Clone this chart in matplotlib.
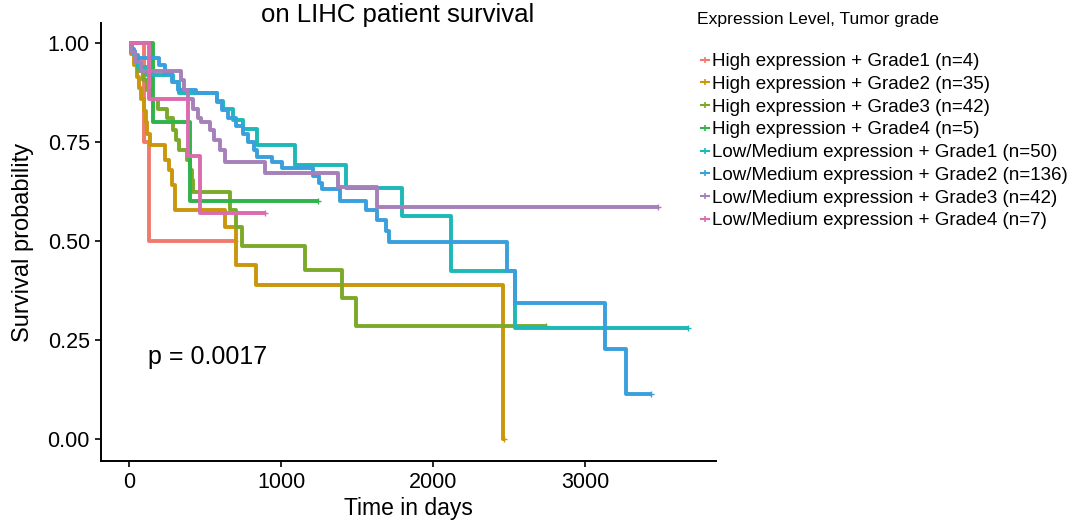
import matplotlib
matplotlib.use("Agg")
import matplotlib.pyplot as plt
from matplotlib.lines import Line2D

plt.rcParams["font.family"] = ["Liberation Sans", "DejaVu Sans"]

# ---- curves (time in days, survival) ----
hg1_t = [0, 96, 128, 697]
hg1_s = [1.0, 0.75, 0.50, 0.50]

hg2_t = [0, 15, 29, 50, 68, 75, 95, 110, 120, 135, 238, 260, 285, 300, 627, 704, 835, 2460, 2465]
hg2_s = [1.0, 0.971, 0.943, 0.914, 0.886, 0.857, 0.829, 0.80, 0.771, 0.743, 0.705, 0.68, 0.641, 0.578, 0.536, 0.439, 0.389, 0.0, 0.0]

hg3_t = [0, 20, 40, 60, 90, 120, 150, 190, 250, 290, 310, 330, 380, 400, 410, 420, 665, 700, 745, 1157, 1397, 1490, 2740]
hg3_s = [1.0, 0.976, 0.952, 0.929, 0.905, 0.881, 0.857, 0.833, 0.81, 0.78, 0.755, 0.73, 0.705, 0.68, 0.655, 0.624, 0.578, 0.536, 0.488, 0.427, 0.356, 0.285, 0.285]

hg4_t = [0, 160, 403, 1240]
hg4_s = [1.0, 0.80, 0.60, 0.60]

lg1_t = [0, 20, 40, 60, 120, 290, 330, 580, 620, 680, 750, 840, 1090, 1424, 1797, 2118, 2537, 3676]
lg1_s = [1.0, 0.98, 0.96, 0.94, 0.92, 0.90, 0.874, 0.853, 0.832, 0.806, 0.783, 0.742, 0.692, 0.634, 0.563, 0.423, 0.28, 0.28]

lg2_t = [0, 15, 35, 55, 195, 235, 280, 320, 440, 580, 610, 650, 700, 750, 780, 820, 840, 940, 1005,
         1210, 1250, 1270, 1385, 1560, 1630, 1690, 1710, 2485, 2537, 3126, 3264, 3434]
lg2_s = [1.0, 0.985, 0.97, 0.962, 0.945, 0.924, 0.90, 0.88, 0.874, 0.85, 0.83, 0.81, 0.79, 0.77, 0.75, 0.73, 0.712, 0.70, 0.684,
         0.665, 0.645, 0.63, 0.60, 0.578, 0.553, 0.525, 0.498, 0.425, 0.343, 0.227, 0.114, 0.114]

lg3_t = [0, 15, 40, 80, 340, 360, 390, 420, 450, 470, 530, 560, 600, 630, 893, 1371, 1627, 3480]
lg3_s = [1.0, 0.976, 0.952, 0.929, 0.905, 0.88, 0.857, 0.833, 0.81, 0.80, 0.78, 0.755, 0.73, 0.70, 0.672, 0.636, 0.586, 0.586]

lg4_t = [0, 128, 390, 468, 893]
lg4_s = [1.0, 0.857, 0.714, 0.571, 0.571]

labels = ["High expression + Grade1 (n=4)", "High expression + Grade2 (n=35)",
          "High expression + Grade3 (n=42)", "High expression + Grade4 (n=5)",
          "Low/Medium expression + Grade1 (n=50)", "Low/Medium expression + Grade2 (n=136)",
          "Low/Medium expression + Grade3 (n=42)", "Low/Medium expression + Grade4 (n=7)"]
colors = ["#F07A6E", "#C9960C", "#7BAA2A", "#2FB34A", "#1DB8B8", "#3A9FDD", "#A680BA", "#DC6BAE"]
curves = [(hg1_t, hg1_s), (hg2_t, hg2_s), (hg3_t, hg3_s), (hg4_t, hg4_s),
          (lg1_t, lg1_s), (lg2_t, lg2_s), (lg3_t, lg3_s), (lg4_t, lg4_s)]

fig = plt.figure(figsize=(10.7, 5.24), dpi=100)
ax = fig.add_axes([0.0944, 0.12, 0.575, 0.836])

for (t, s), c in zip(curves, colors):
    ax.step(t, s, where="post", color=c, lw=2.8, solid_capstyle="butt")
    ax.plot(t[-1], s[-1], marker="+", color=c, ms=4, mew=1)

ax.set_xlim(-185, 3860)
ax.set_ylim(-0.056, 1.05)
ax.set_xticks([0, 1000, 2000, 3000])
ax.set_yticks([0, 0.25, 0.5, 0.75, 1.0])
ax.set_yticklabels(["0.00", "0.25", "0.50", "0.75", "1.00"])
for sp in ["top", "right"]:
    ax.spines[sp].set_visible(False)
for sp in ["left", "bottom"]:
    ax.spines[sp].set_linewidth(1.4)
ax.tick_params(labelsize=15.5, width=1.2, length=4, pad=4, colors="black")
ax.set_xlabel("Time in days", fontsize=16.5, labelpad=3)
ax.set_ylabel("Survival probability", fontsize=17, labelpad=10)
fig.text(0.372, 1 - 15 / 524, "on LIHC patient survival", fontsize=18.5, ha="center", va="center")

ax.text(127, 0.207, "p = 0.0017", fontsize=18, va="center", ha="left")

fig.text(0.651, 0.962, "Expression Level, Tumor grade", fontsize=12.6, va="center", ha="left")
handles = [Line2D([0], [0], color=c, lw=1.5, marker="+", ms=5, mew=1.2) for c in colors]
fig.legend(handles, labels, loc="upper left", bbox_to_anchor=(0.648, 0.913), frameon=False,
           fontsize=13.5, handlelength=0.45, handletextpad=0.12, labelspacing=0.3, borderaxespad=0)

fig.savefig("out.png", dpi=100)
